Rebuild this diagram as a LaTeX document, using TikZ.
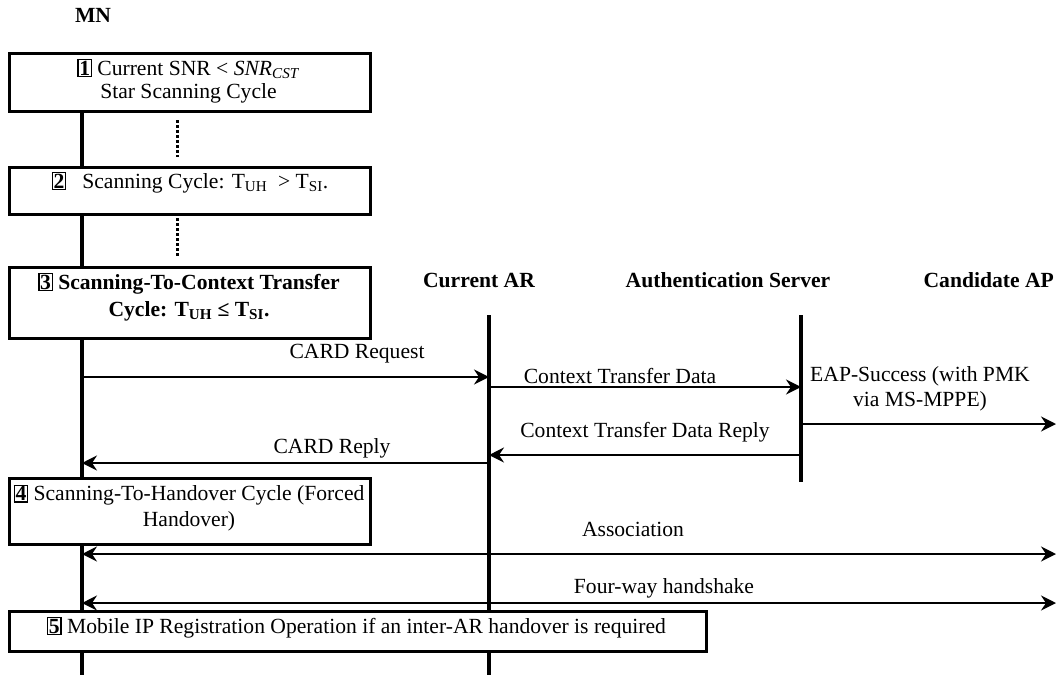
\documentclass[tikz,border=0pt]{standalone}
\usepackage{fontspec}
\setmainfont{Liberation Serif}
\usetikzlibrary{arrows.meta}
\setlength{\fboxsep}{0.6pt}
\setlength{\fboxrule}{1.3pt}
\newcommand{\stepnum}[1]{\fbox{\textbf{#1}}}
\newcommand{\fsz}{\fontsize{21.6}{25}\selectfont}
\begin{document}
\begin{tikzpicture}[x=1pt,y=-1pt,
  every node/.style={inner sep=0pt, font=\fsz},
  box/.style={draw, line width=2.6pt, fill=white, anchor=north west},
  lifeline/.style={line width=4pt},
  dotline/.style={line width=3pt, dash pattern=on 3pt off 2pt},
  msg/.style={line width=2.2pt, -{Stealth[length=15pt,width=15pt,inset=5pt]}},
  msgboth/.style={line width=2.2pt, {Stealth[length=15pt,width=15pt,inset=5pt]}-{Stealth[length=15pt,width=15pt,inset=5pt]}},
  hdr/.style={font=\fsz\bfseries, anchor=base},
  lbl/.style={anchor=base},
]
\useasboundingbox (0,0) rectangle (1056,675);

% headers
\node[hdr] (mn) at (93,22) {MN};
\node[hdr] (ar) at (479,287) {Current AR};
\node[hdr] (as) at (728,287) {Authentication Server};
\node[hdr, anchor=base east] (ap) at (1054,287) {Candidate AP};

% lifeline ends
\coordinate (mnT) at (82,110);
\coordinate (mnB) at (82,675);
\coordinate (arT) at (489,315);
\coordinate (arB) at (489,675);
\coordinate (asT) at (801,315);
\coordinate (asB) at (801,482);
\coordinate (apR) at (1056,315);

\draw[lifeline] (mnT) -- (mnB);
\draw[lifeline] (arT) -- (arB);
\draw[lifeline] (asT) -- (asB);

% dotted continuation marks
\coordinate (d1a) at (177,120); \coordinate (d1b) at (177,157);
\coordinate (d2a) at (177,218); \coordinate (d2b) at (177,257);
\draw[dotline] (d1a) -- (d1b);
\draw[dotline] (d2a) -- (d2b);

% boxes
\node[box, minimum width=361pt, minimum height=58pt] (b1) at (8,52) {};
\node[box, minimum width=361pt, minimum height=47pt] (b2) at (8,166) {};
\node[box, minimum width=361pt, minimum height=71pt] (b3) at (8,266) {};
\node[box, minimum width=361pt, minimum height=66pt] (b4) at (8,477) {};
\node[box, minimum width=697pt, minimum height=40pt] (b5) at (8,610) {};

\node[align=center] (t1) at (188.5,81) {\stepnum{1} Current SNR < \textit{SNR}\textsubscript{\textit{CST}}\\[-2pt] Star Scanning Cycle};
\node (t2) at (190,182.5) {\stepnum{2}\hspace{16pt}Scanning Cycle: T\textsubscript{UH}\ \ > T\textsubscript{SI}.};
\node[align=center, font=\fsz\bfseries] (t3) at (189,297) {\stepnum{3} Scanning-To-Context Transfer\\[2pt] Cycle: T\textsubscript{UH} ≤ T\textsubscript{SI}.};
\node[align=center] (t4) at (189,508) {\stepnum{4} Scanning-To-Handover Cycle (Forced\\[1pt] Handover)};
\node (t5) at (356.5,627.5) {\stepnum{5} Mobile IP Registration Operation if an inter-AR handover is required};

% messages
\draw[msg] (mnT |- 0,377) -- (arT |- 0,377);
\node[lbl] (l1) at (357,358) {CARD Request};
\draw[msg] (arT |- 0,387) -- (asT |- 0,387);
\node[lbl] (l2) at (620,383) {Context Transfer Data};
\draw[msg] (asT |- 0,424) -- (apR |- 0,424);
\node[align=center] (l3) at (920,389) {EAP-Success (with PMK\\via MS-MPPE)};
\draw[msg] (asT |- 0,455) -- (arT |- 0,455);
\node[lbl] (l4) at (645,437) {Context Transfer Data Reply};
\draw[msg] (arT |- 0,463) -- (mnT |- 0,463);
\node[lbl] (l5) at (332,453) {CARD Reply};
\draw[msgboth] (mnT |- 0,554) -- (apR |- 0,554);
\node[lbl] (l6) at (633,536) {Association};
\draw[msgboth] (mnT |- 0,603) -- (apR |- 0,603);
\node[lbl] (l7) at (664,593) {Four-way handshake};
\end{tikzpicture}
\end{document}
